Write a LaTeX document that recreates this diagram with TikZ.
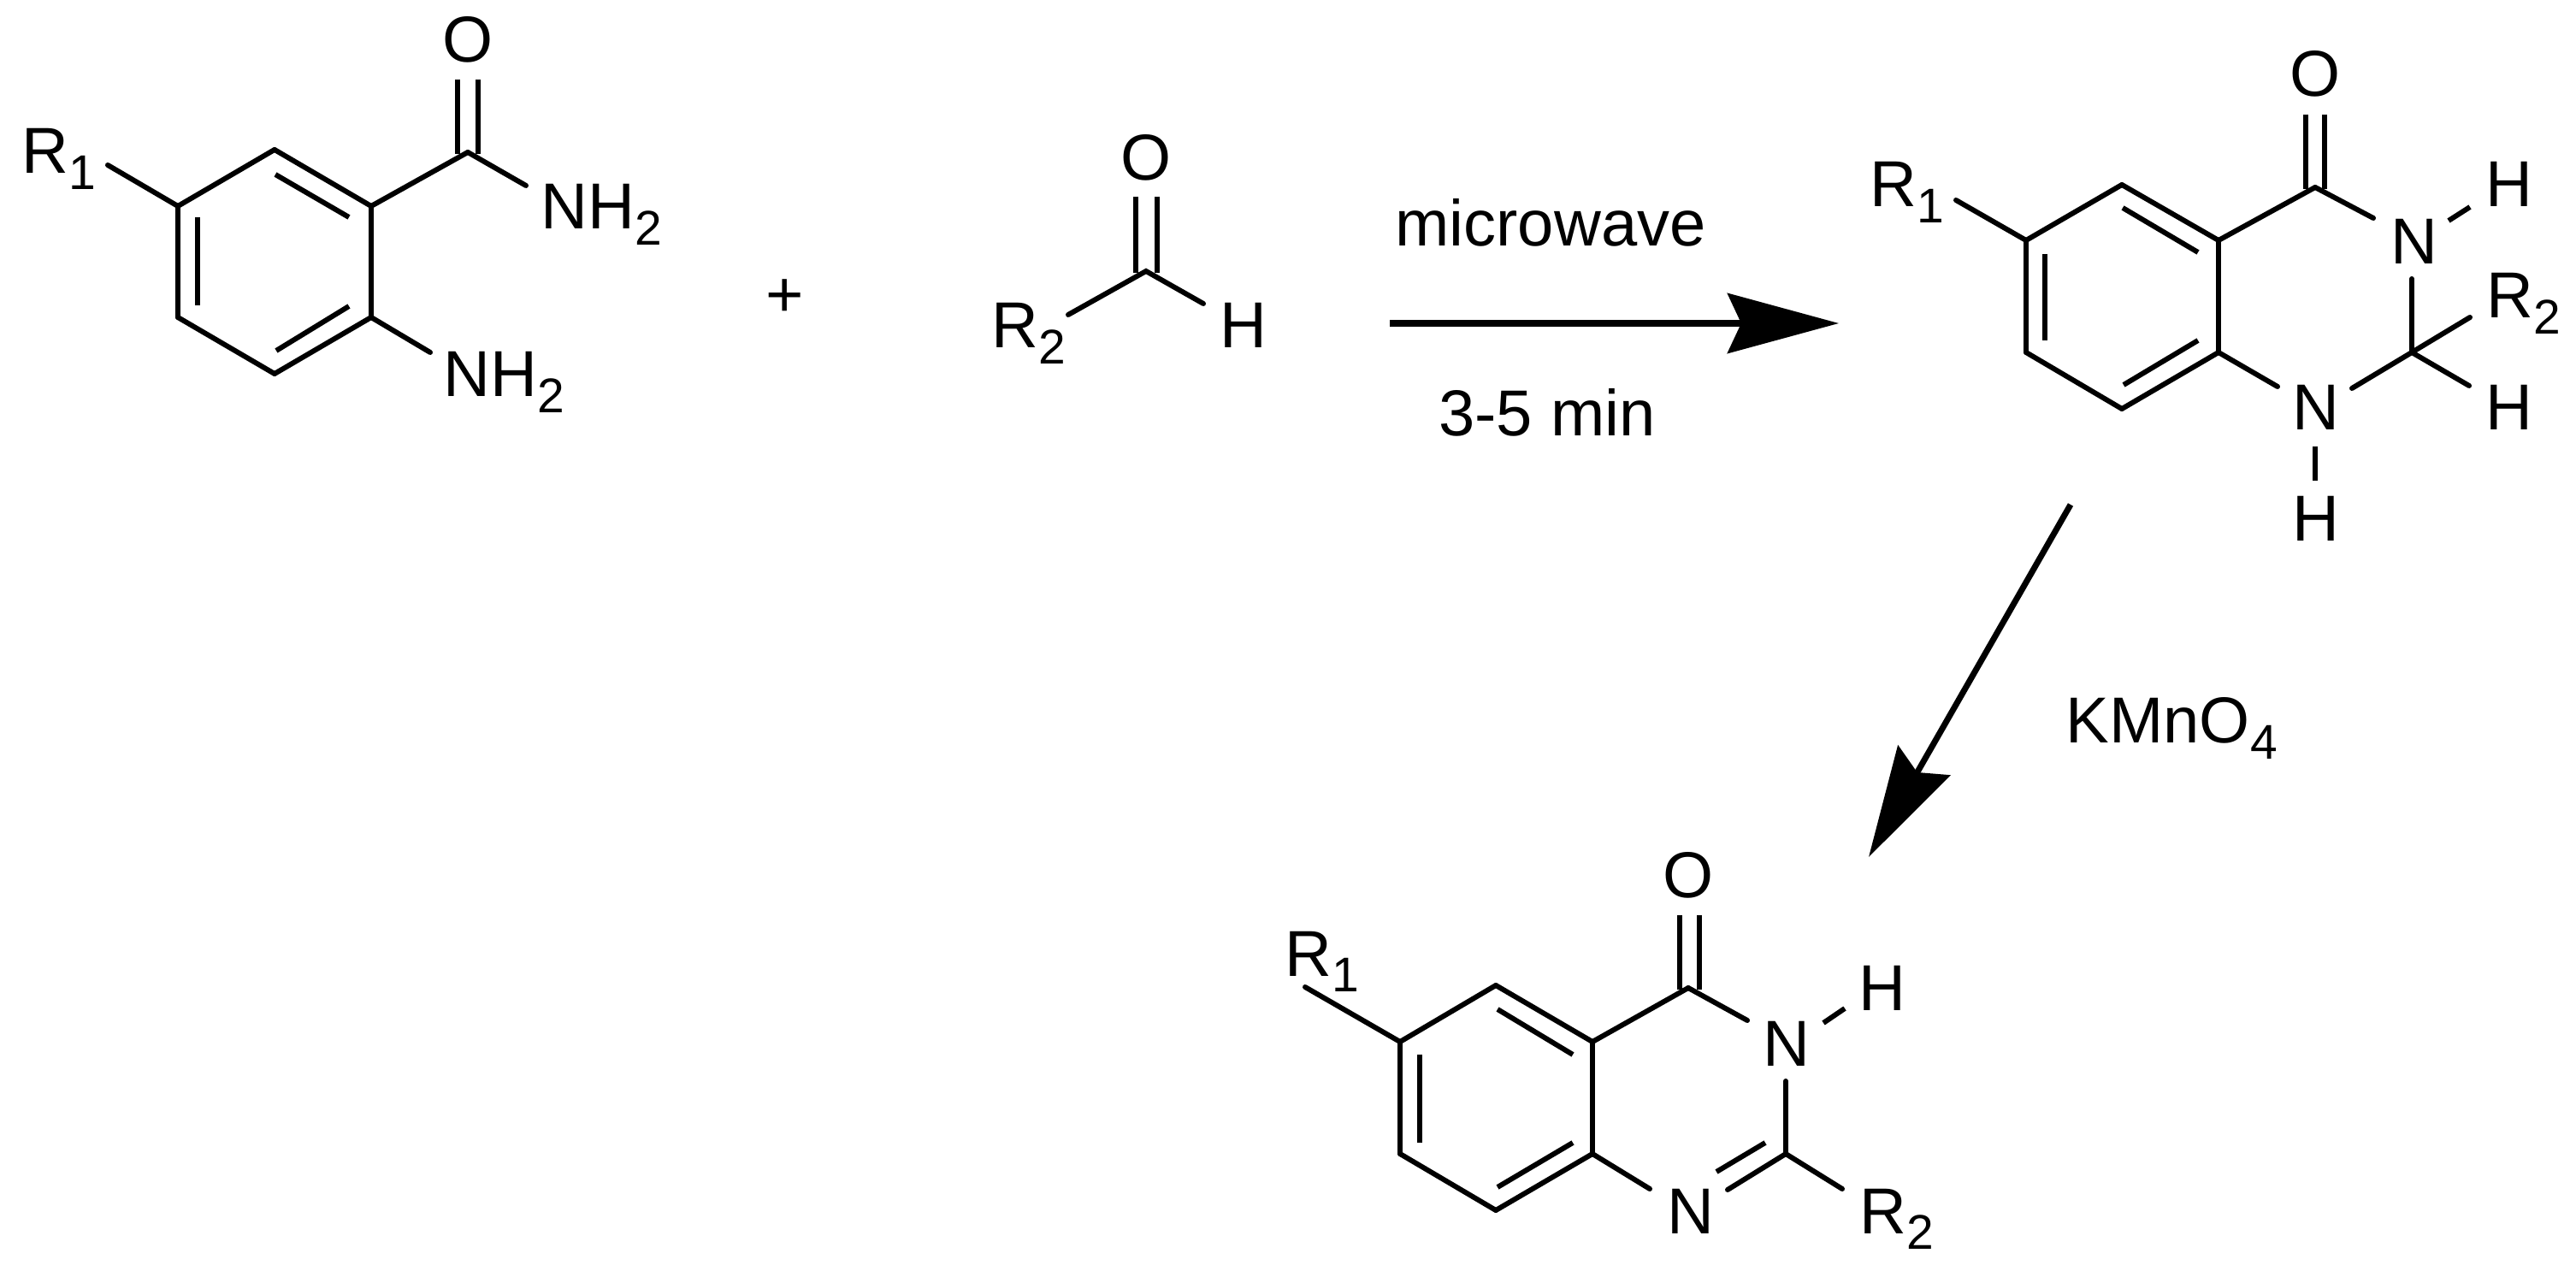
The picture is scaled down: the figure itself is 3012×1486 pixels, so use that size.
\documentclass[tikz,border=0pt]{standalone}
\usepackage{fontspec}
\setmainfont{Liberation Sans}
\usetikzlibrary{arrows.meta}

\newcommand{\idx}[1]{\raisebox{-5.2pt}{\fontsize{16.2}{18}\selectfont #1}}

\tikzset{
  atom/.style={inner sep=0pt, anchor=base west, font=\fontsize{21.6}{24}\selectfont},
  bond/.style={line width=1.7pt},
  react/.style={line width=2pt, -{Stealth[length=1.3cm, width=0.7cm, inset=0.16cm]}},
}

\begin{document}
\begin{tikzpicture}[x=0.01cm, y=-0.01cm]
  \useasboundingbox (0, 0) rectangle (3012, 1486);

  % anthranilamide
  \coordinate (a1) at (208, 241);
  \coordinate (b1) at (321, 175);
  \coordinate (c1) at (434, 241);
  \coordinate (d1) at (434, 371);
  \coordinate (e1) at (321, 437);
  \coordinate (f1) at (208, 371);
  \coordinate (co1) at (547, 178);
  \coordinate (r1) at (126, 193);
  \coordinate (am1) at (615, 217);
  \coordinate (am2) at (503, 412);
  \node[atom] (r1lab) at (25, 203) {R\idx{1}};
  \node[atom] (nh2a) at (632, 268) {NH\idx{2}};
  \node[atom] (nh2b) at (518, 464) {NH\idx{2}};
  \node[atom, anchor=center] (o1) at (547, 46) {O};
  \node[atom, anchor=center] (plus) at (918, 349) {+};
  \foreach \p/\q in {a1/b1, b1/c1, c1/d1, d1/e1, e1/f1, f1/a1, c1/co1, a1/r1, co1/am1, d1/am2} {
    \draw[bond, line cap=round] (\p) -- (\q);
  }
  \draw[bond] (322, 204) -- (408, 254);
  \draw[bond] (231, 254) -- (231, 357);
  \draw[bond] (408, 358) -- (323, 410);
  \draw[bond] (535, 93) -- (535, 180);
  \draw[bond] (559, 93) -- (559, 180);

  % aldehyde
  \coordinate (co2) at (1340, 317);
  \coordinate (r2) at (1249, 368);
  \coordinate (h2) at (1407, 355);
  \node[atom] (r2lab) at (1159, 407) {R\idx{2}};
  \node[atom] (hald) at (1426, 407) {H};
  \node[atom, anchor=center] (o2) at (1340, 184) {O};
  \draw[bond, line cap=round] (r2) -- (co2) -- (h2);
  \draw[bond] (1328, 230) -- (1328, 319);
  \draw[bond] (1353, 230) -- (1353, 319);

  % first step
  \coordinate (s1) at (1625, 378);
  \coordinate (t1) at (2150, 378);
  \draw[react] (s1) -- (t1);
  \node[atom, anchor=base] (mw) at (1813, 288) {microwave};
  \node[atom, anchor=base] (time) at (1809, 510) {3-5 min};

  % dihydroquinazolinone
  \coordinate (a3) at (2369, 281);
  \coordinate (b3) at (2481, 216);
  \coordinate (c3) at (2594, 281);
  \coordinate (d3) at (2594, 412);
  \coordinate (e3) at (2481, 478);
  \coordinate (f3) at (2369, 412);
  \coordinate (co3) at (2707, 219);
  \coordinate (c23) at (2820, 412);
  \coordinate (r13) at (2287, 234);
  \coordinate (n3a) at (2775, 255);
  \coordinate (n3b) at (2820, 326);
  \coordinate (n3c) at (2750, 454);
  \coordinate (n3d) at (2663, 452);
  \coordinate (r23) at (2888, 371);
  \coordinate (h23) at (2887, 451);
  \node[atom] (r1lab3) at (2186, 242) {R\idx{1}};
  \node[atom] (r2lab3) at (2907, 372) {R\idx{2}};
  \node[atom, anchor=center] (o3) at (2707, 86) {O};
  \node[atom] (n3) at (2795, 309) {N};
  \node[atom] (hn3) at (2906, 242) {H};
  \node[atom] (n13) at (2680, 503) {N};
  \node[atom] (hc3) at (2906, 503) {H};
  \node[atom] (hn13) at (2680, 633) {H};
  \foreach \p/\q in {a3/b3, b3/c3, c3/d3, d3/e3, e3/f3, f3/a3, c3/co3, a3/r13, co3/n3a, n3b/c23, c23/n3c, d3/n3d, c23/r23, c23/h23} {
    \draw[bond, line cap=round] (\p) -- (\q);
  }
  \draw[bond] (2482, 243) -- (2570, 295);
  \draw[bond] (2391, 297) -- (2391, 398);
  \draw[bond] (2570, 398) -- (2483, 450);
  \draw[bond] (2696, 134) -- (2696, 221);
  \draw[bond] (2718, 134) -- (2718, 221);
  \draw[bond] (2863, 258) -- (2888, 242);
  \draw[bond] (2707, 522) -- (2707, 562);

  % second step
  \coordinate (s2) at (2421, 590);
  \coordinate (t2) at (2185, 1002);
  \draw[react] (s2) -- (t2);
  \node[atom] (kmno) at (2415, 869) {KMnO\idx{4}};

  % quinazolinone
  \coordinate (a4) at (1637, 1218);
  \coordinate (b4) at (1749, 1152);
  \coordinate (c4) at (1862, 1218);
  \coordinate (d4) at (1862, 1349);
  \coordinate (e4) at (1749, 1415);
  \coordinate (f4) at (1637, 1349);
  \coordinate (co4) at (1974, 1155);
  \coordinate (c24) at (2088, 1349);
  \coordinate (r14) at (1526, 1154);
  \coordinate (n4a) at (2043, 1193);
  \coordinate (n4b) at (2088, 1264);
  \coordinate (n4c) at (2020, 1391);
  \coordinate (n4d) at (1929, 1390);
  \coordinate (r24) at (2154, 1390);
  \node[atom] (r1lab4) at (1502, 1141) {R\idx{1}};
  \node[atom] (r2lab4) at (2174, 1442) {R\idx{2}};
  \node[atom, anchor=center] (o4) at (1974, 1023) {O};
  \node[atom] (n4) at (2061, 1246) {N};
  \node[atom] (hn4) at (2173, 1181) {H};
  \node[atom] (n14) at (1949, 1442) {N};
  \foreach \p/\q in {a4/b4, b4/c4, c4/d4, d4/e4, e4/f4, f4/a4, c4/co4, a4/r14, co4/n4a, n4b/c24, c24/n4c, d4/n4d, c24/r24} {
    \draw[bond, line cap=round] (\p) -- (\q);
  }
  \draw[bond] (1751, 1180) -- (1839, 1233);
  \draw[bond] (1660, 1233) -- (1660, 1336);
  \draw[bond] (1839, 1336) -- (1751, 1388);
  \draw[bond] (2064, 1336) -- (2007, 1370);
  \draw[bond] (1964, 1070) -- (1964, 1157);
  \draw[bond] (1987, 1070) -- (1987, 1157);
  \draw[bond] (2132, 1196) -- (2157, 1179);
\end{tikzpicture}
\end{document}
